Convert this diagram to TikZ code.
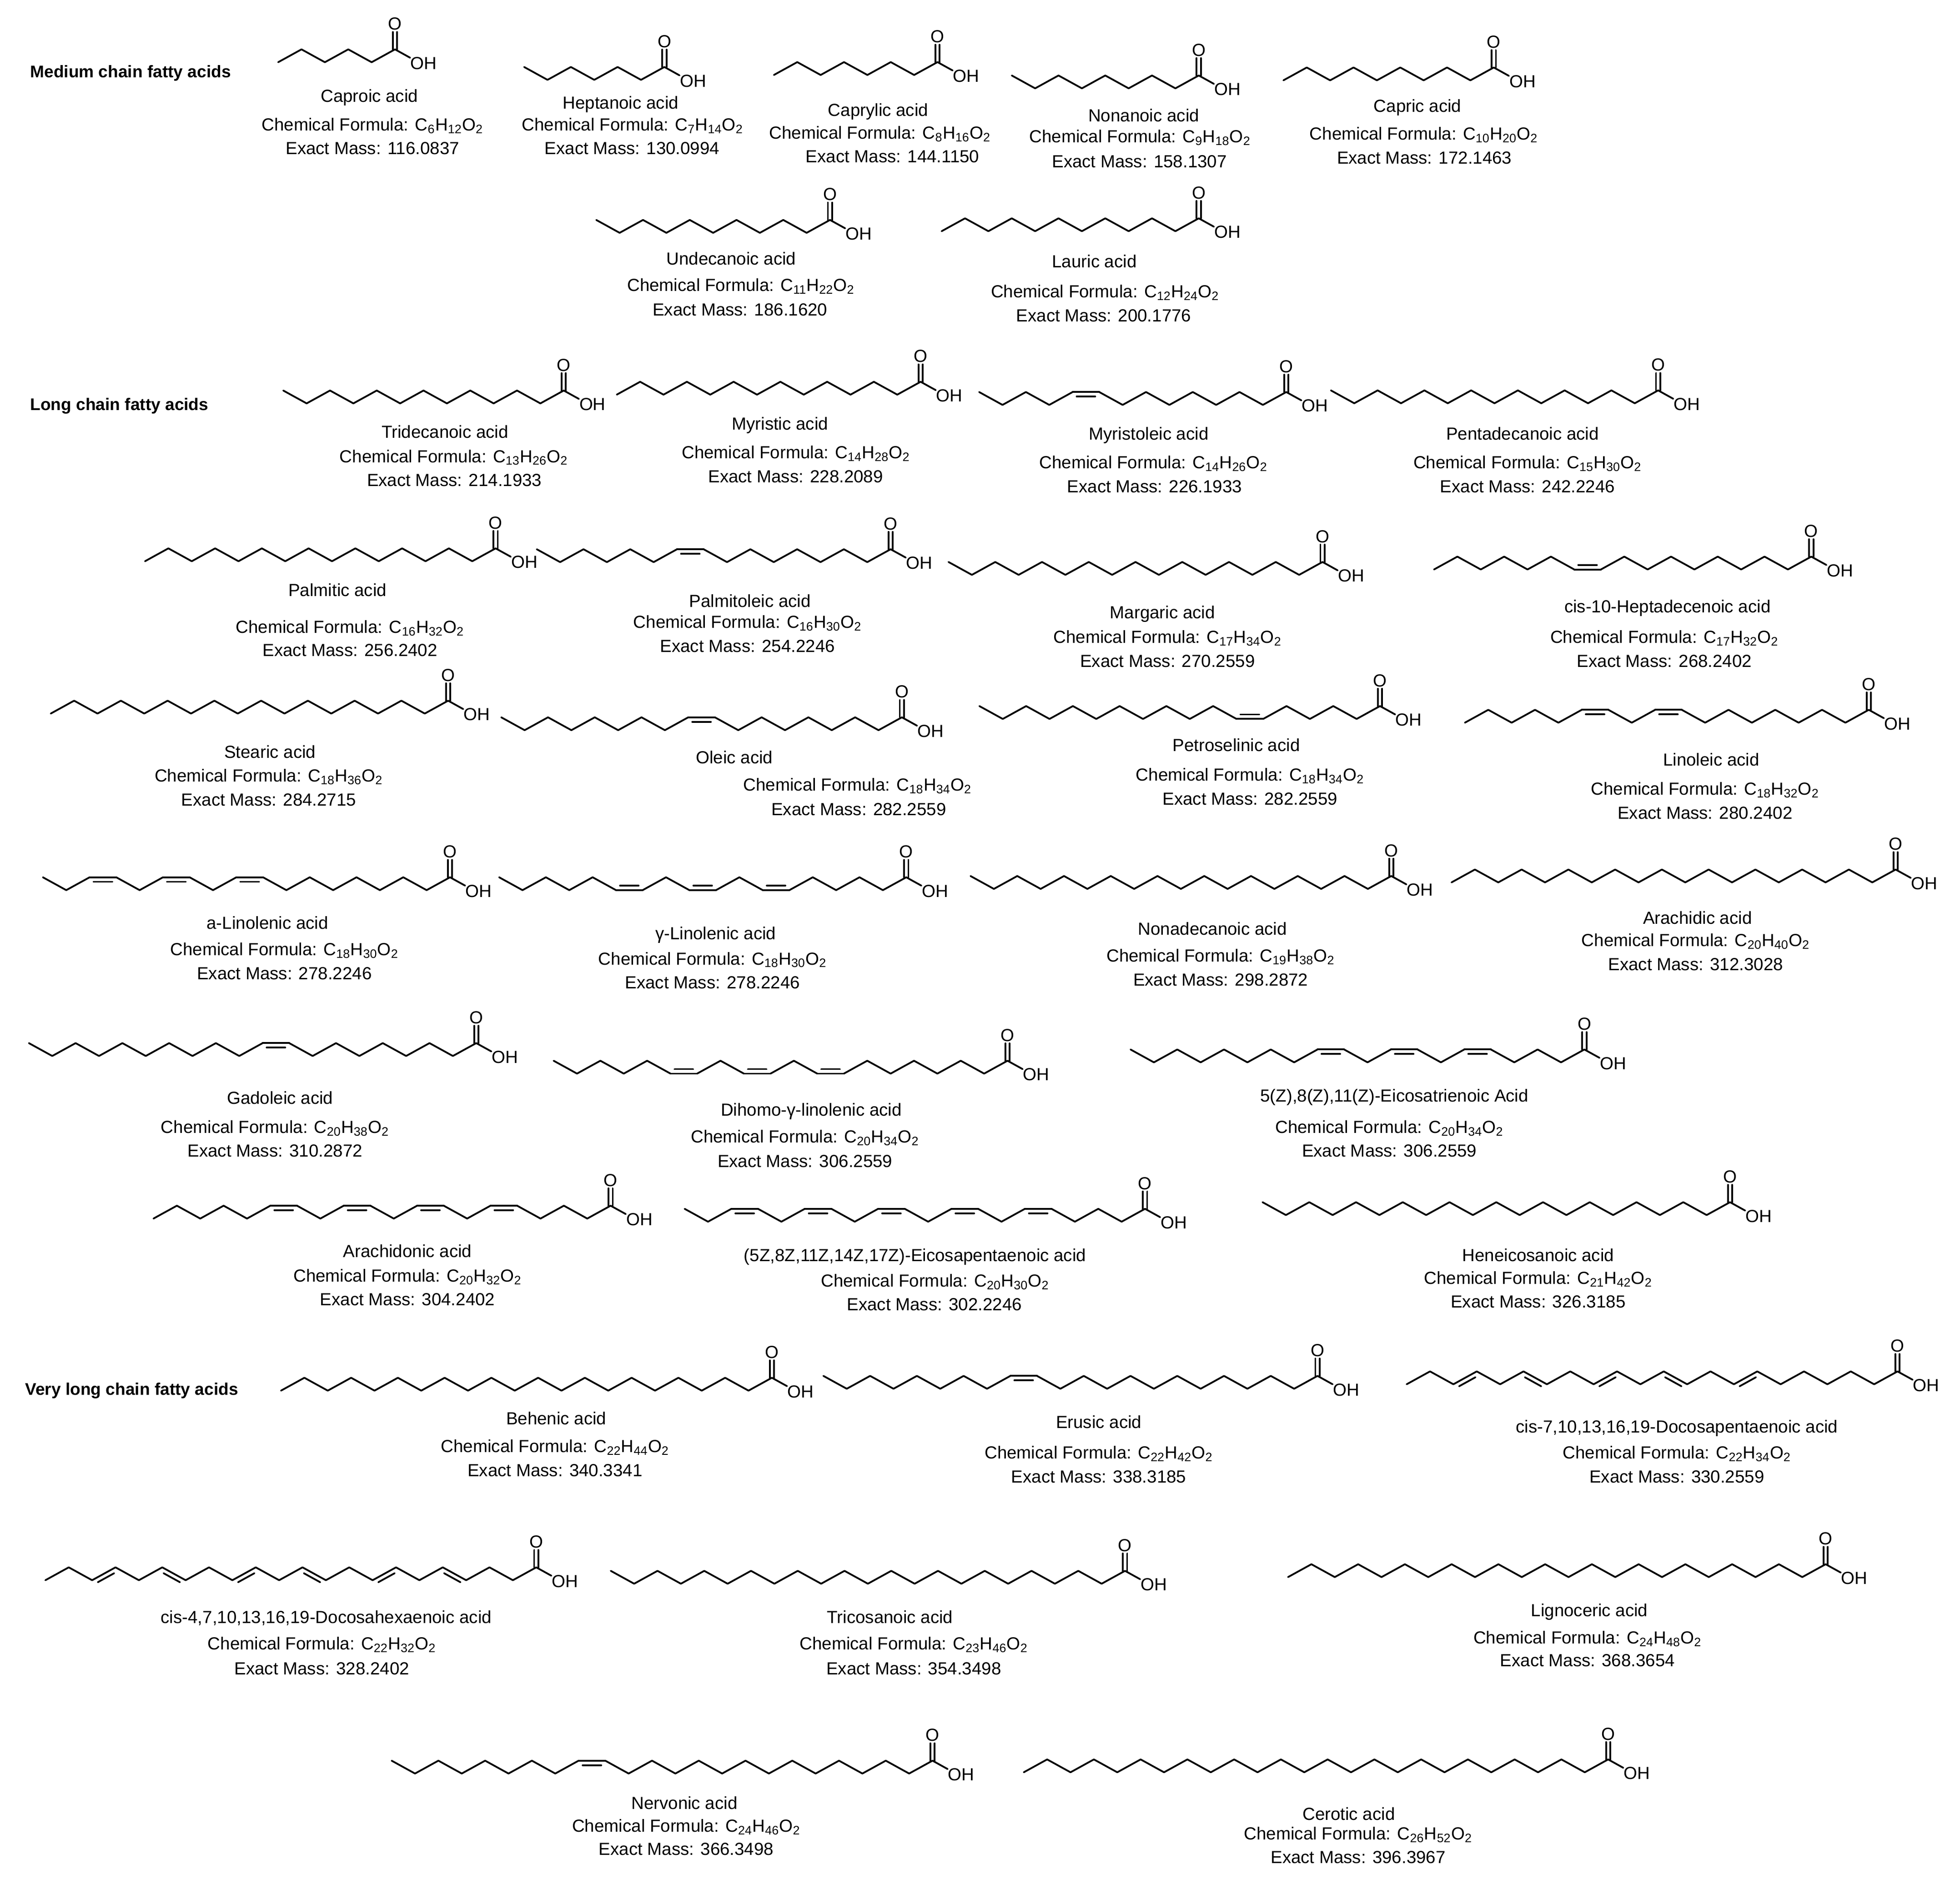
\documentclass[tikz,border=0pt]{standalone}
\usepackage{fontspec}
\setmainfont{Liberation Sans}
\newcommand\fs{\fontsize{14pt}{16pt}\selectfont}
\newcommand\DX{18.7}
\newcommand\DY{10.3}
\newcommand\CL{21.3}
\newcommand\OFF{3.6}
\tikzset{
  bond/.style={line width=1.4pt, line cap=round, line join=round},
  txt/.style={font=\fs, inner sep=0pt, anchor=base},
  cat/.style={font=\fontsize{13.5pt}{16pt}\selectfont\bfseries, inner sep=0pt, anchor=west},
}
\newcommand\acid[6]{% id, cx, cy, n, list, type
  \pgfmathtruncatemacro\nb{#4-1}
  \xdef\curx{#2}\xdef\curl{0}
  \foreach \k in {1,...,\nb}{
    \gdef\isd{0}
    \foreach \d in {#5}{\ifnum\d=\k\relax\gdef\isd{1}\fi}
    \pgfmathsetmacro\ya{-(#3)-\curl*\DY}
    \ifnum\isd=1\relax
      \if#6c
        \pgfmathsetmacro\nx{\curx-\CL}\edef\nlv{\curl}
      \else
        \pgfmathsetmacro\nx{\curx-\DX}\pgfmathtruncatemacro\nlv{1-\curl}
      \fi
    \else
      \pgfmathsetmacro\nx{\curx-\DX}\pgfmathtruncatemacro\nlv{1-\curl}
    \fi
    \pgfmathsetmacro\yb{-(#3)-\nlv*\DY}
    \draw[bond] (\curx,\ya) -- (\nx,\yb);
    \ifnum\isd=1\relax
      \pgfmathsetmacro\vx{\nx-\curx}
      \pgfmathsetmacro\vy{\yb-\ya}
      \pgfmathsetmacro\bl{sqrt(\vx*\vx+\vy*\vy)}
      \pgfmathsetmacro\ox{-1*(\vy)/\bl*\OFF}
      \pgfmathsetmacro\oy{(\vx)/\bl*\OFF}
      \if#6c\ifnum\nlv=1\relax\pgfmathsetmacro\oy{-1*(\oy)}\fi\fi
      \pgfmathsetmacro\sx{\curx+\ox+0.15*\vx}
      \pgfmathsetmacro\sy{\ya+\oy+0.15*\vy}
      \pgfmathsetmacro\ex{\curx+\ox+0.85*\vx}
      \pgfmathsetmacro\ey{\ya+\oy+0.85*\vy}
      \draw[bond] (\sx,\sy) -- (\ex,\ey);
    \fi
    \xdef\curx{\nx}\xdef\curl{\nlv}
  }
  \coordinate (#1C) at (#2,-#3);
  \node[font=\fs, inner sep=0pt] (#1O) at (#2,-#3+20.4) {O};
  \node[txt, anchor=base west] (#1OH) at (#2+12.3,-#3-15.9) {OH};
  \draw[bond] ([xshift=-1.7pt]#1C) -- ([xshift=-1.7pt,yshift=13.9pt]#1C);
  \draw[bond] ([xshift=1.7pt]#1C) -- ([xshift=1.7pt,yshift=13.9pt]#1C);
  \draw[bond] (#1C) -- ([xshift=12.1pt,yshift=-6.7pt]#1C);
}
\newcommand\nm[4]{\node[txt] (#1n) at (#2,-#3-5) {#4};}
\newcommand\fm[5]{\node[txt] (#1f) at (#2,-#3-5) {Chemical Formula: C\textsubscript{#4}H\textsubscript{#5}O\textsubscript{2}};}
\newcommand\ms[4]{\node[txt] (#1m) at (#2,-#3-5) {Exact Mass: #4};}
\begin{document}
\begin{tikzpicture}[x=1pt,y=1pt]
\useasboundingbox[fill=white] (0,0) rectangle (1568,-1507.5);
\node[cat] (medium) at (24,-58.7) {Medium chain fatty acids};
\node[cat] (long) at (24,-325) {Long chain fatty acids};
\node[cat] (vlong) at (20,-1112.7) {Very long chain fatty acids};
\acid{a1}{316}{39.5}{6}{0}{z}
\nm{a1}{295.5}{76.5}{Caproic acid}\fm{a1}{298}{99.5}{6}{12}\ms{a1}{298}{118.6}{116.0837}
\acid{a2}{531.5}{53.6}{7}{0}{z}
\nm{a2}{496.5}{82}{Heptanoic acid}\fm{a2}{506}{99.5}{7}{14}\ms{a2}{505.7}{118.6}{130.0994}
\acid{a3}{750}{49.7}{8}{0}{z}
\nm{a3}{702.5}{88}{Caprylic acid}\fm{a3}{704}{106}{8}{16}\ms{a3}{714}{125}{144.1150}
\acid{a4}{959}{60.4}{9}{0}{z}
\nm{a4}{915}{92.3}{Nonanoic acid}\fm{a4}{912}{109}{9}{18}\ms{a4}{911.5}{129}{158.1307}
\acid{a5}{1195}{54}{10}{0}{z}
\nm{a5}{1134}{84.7}{Capric acid}\fm{a5}{1139}{107}{10}{20}\ms{a5}{1139.5}{126}{172.1463}
\acid{a6}{664}{176}{11}{0}{z}
\nm{a6}{585}{207}{Undecanoic acid}\fm{a6}{592.7}{228}{11}{22}\ms{a6}{592}{247.5}{186.1620}
\acid{a7}{959}{174.7}{12}{0}{z}
\nm{a7}{875.5}{209}{Lauric acid}\fm{a7}{884}{233}{12}{24}\ms{a7}{883}{252.5}{200.1776}
\acid{a8}{451}{312.5}{13}{0}{z}
\nm{a8}{356}{345.6}{Tridecanoic acid}\fm{a8}{363}{365}{13}{26}\ms{a8}{363.5}{384}{214.1933}
\acid{a9}{736.5}{305.5}{14}{0}{z}
\nm{a9}{624}{339}{Myristic acid}\fm{a9}{636.7}{362}{14}{28}\ms{a9}{636.5}{381}{228.2089}
\acid{a10}{1029}{313.7}{14}{9}{c}
\nm{a10}{919}{347}{Myristoleic acid}\fm{a10}{922.7}{370}{14}{26}\ms{a10}{923.7}{389}{226.1933}
\acid{a11}{1326.5}{312.4}{15}{0}{z}
\nm{a11}{1218}{347}{Pentadecanoic acid}\fm{a11}{1222}{370}{15}{30}\ms{a11}{1222}{389}{242.2246}
\acid{a12}{396.5}{438.8}{16}{0}{z}
\nm{a12}{270}{472}{Palmitic acid}\fm{a12}{280}{501.5}{16}{32}\ms{a12}{280}{520}{256.2402}
\acid{a13}{712.5}{439.5}{16}{9}{c}
\nm{a13}{600}{481}{Palmitoleic acid}\fm{a13}{598}{497.7}{16}{30}\ms{a13}{598}{516.8}{254.2246}
\acid{a14}{1058}{449.7}{17}{0}{z}
\nm{a14}{930}{489.8}{Margaric acid}\fm{a14}{934}{509.7}{17}{34}\ms{a14}{934}{528.8}{270.2559}
\acid{a15}{1449}{445.4}{17}{10}{c}
\nm{a15}{1334}{485.4}{cis-10-Heptadecenoic acid}\fm{a15}{1331.5}{509.7}{17}{32}\ms{a15}{1331.5}{528.8}{268.2402}
\acid{a16}{358.5}{560.7}{18}{0}{z}
\nm{a16}{216}{601.5}{Stearic acid}\fm{a16}{215}{620.6}{18}{36}\ms{a16}{215}{639.7}{284.2715}
\acid{a17}{721.5}{574}{18}{9}{c}
\nm{a17}{587.5}{606}{Oleic acid}\fm{a17}{686}{628}{18}{34}\ms{a17}{687}{647.4}{282.2559}
\acid{a18}{1104}{565}{18}{6}{c}
\nm{a18}{989}{596}{Petroselinic acid}\fm{a18}{1000}{620}{18}{34}\ms{a18}{1000}{639}{282.2559}
\acid{a19}{1495}{568}{18}{9,12}{c}
\nm{a19}{1369}{608}{Linoleic acid}\fm{a19}{1364}{631}{18}{32}\ms{a19}{1364}{650.4}{280.2402}
\acid{a20}{360}{702}{18}{9,12,15}{c}
\nm{a20}{214}{738.6}{a-Linolenic acid}\fm{a20}{227.5}{759.6}{18}{30}\ms{a20}{227.5}{778.7}{278.2246}
\acid{a21}{725}{702}{18}{6,9,12}{c}
\nm{a21}{572.5}{746.8}{γ-Linolenic acid}\fm{a21}{570}{767}{18}{30}\ms{a21}{570}{786}{278.2246}
\acid{a22}{1113}{701}{19}{0}{z}
\nm{a22}{970}{743}{Nonadecanoic acid}\fm{a22}{976.5}{764.7}{19}{38}\ms{a22}{976.5}{783.8}{298.2872}
\acid{a23}{1516.5}{695.8}{20}{0}{z}
\nm{a23}{1358}{734.6}{Arachidic acid}\fm{a23}{1356.5}{752.4}{20}{40}\ms{a23}{1356.5}{771.5}{312.3028}
\acid{a24}{381}{834.7}{20}{9}{c}
\nm{a24}{224}{878.6}{Gadoleic acid}\fm{a24}{220}{901.8}{20}{38}\ms{a24}{220}{920.7}{310.2872}
\acid{a25}{806}{848.8}{20}{8,11,14}{c}
\nm{a25}{649}{887.8}{Dihomo-γ-linolenic acid}\fm{a25}{644}{909.4}{20}{34}\ms{a25}{644}{929}{306.2559}
\acid{a26}{1267.5}{839.8}{20}{5,8,11}{c}
\nm{a26}{1115.5}{876.8}{5(Z),8(Z),11(Z)-Eicosatrienoic Acid}\fm{a26}{1111.5}{901.8}{20}{34}\ms{a26}{1111.5}{920.7}{306.2559}
\acid{a27}{488.5}{964.8}{20}{5,8,11,14}{c}
\nm{a27}{326}{1001}{Arachidonic acid}\fm{a27}{326}{1020.9}{20}{32}\ms{a27}{326}{1039.5}{304.2402}
\acid{a28}{916}{967.3}{20}{5,8,11,14,17}{c}
\nm{a28}{732}{1004.3}{(5Z,8Z,11Z,14Z,17Z)-Eicosapentaenoic acid}\fm{a28}{748}{1024.7}{20}{30}\ms{a28}{747.5}{1043.8}{302.2246}
\acid{a29}{1384}{962}{21}{0}{z}
\nm{a29}{1230.5}{1004.3}{Heneicosanoic acid}\fm{a29}{1230.5}{1022.7}{21}{42}\ms{a29}{1230.5}{1041.3}{326.3185}
\acid{a30}{617.5}{1102.5}{22}{0}{z}
\nm{a30}{445}{1134.9}{Behenic acid}\fm{a30}{444}{1157.3}{22}{44}\ms{a30}{444}{1176.4}{340.3341}
\acid{a31}{1054}{1101}{22}{13}{c}
\nm{a31}{879}{1138}{Erusic acid}\fm{a31}{879}{1162.4}{22}{42}\ms{a31}{879}{1181.5}{338.3185}
\acid{a32}{1518}{1097.4}{22}{7,10,13,16,19}{t}
\nm{a32}{1341.5}{1141.5}{cis-7,10,13,16,19-Docosapentaenoic acid}\fm{a32}{1341.5}{1162.4}{22}{34}\ms{a32}{1341.5}{1181.5}{330.2559}
\acid{a33}{429}{1254.2}{22}{4,7,10,13,16,19}{t}
\nm{a33}{261}{1294}{cis-4,7,10,13,16,19-Docosahexaenoic acid}\fm{a33}{257.5}{1315}{22}{32}\ms{a33}{257.5}{1335}{328.2402}
\acid{a34}{900}{1257}{23}{0}{z}
\nm{a34}{712}{1294}{Tricosanoic acid}\fm{a34}{731}{1315}{23}{46}\ms{a34}{731}{1335}{354.3498}
\acid{a35}{1460.5}{1251.7}{24}{0}{z}
\nm{a35}{1271.5}{1288.5}{Lignoceric acid}\fm{a35}{1270}{1310.4}{24}{48}\ms{a35}{1270}{1328.6}{368.3654}
\acid{a36}{746}{1408.9}{24}{15}{c}
\nm{a36}{547.5}{1442.8}{Nervonic acid}\fm{a36}{549}{1460.8}{24}{46}\ms{a36}{549}{1479.4}{366.3498}
\acid{a37}{1286.5}{1407.9}{26}{0}{z}
\nm{a37}{1079}{1451.4}{Cerotic acid}\fm{a37}{1086.5}{1467}{26}{52}\ms{a37}{1086.5}{1485.9}{396.3967}
\end{tikzpicture}
\end{document}
